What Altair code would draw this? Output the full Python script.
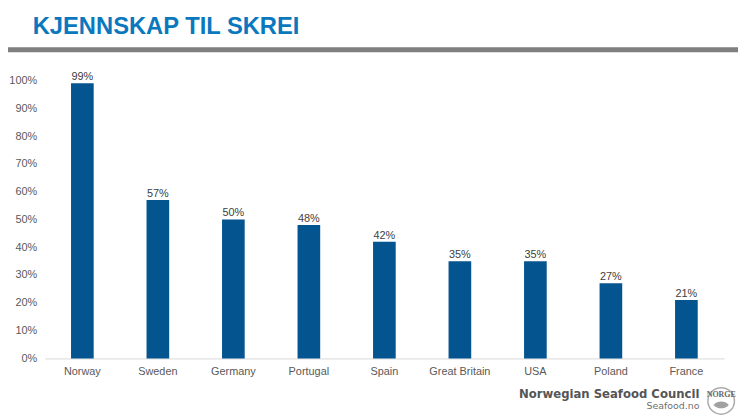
import altair as alt
import pandas as pd

countries = ["Norway", "Sweden", "Germany", "Portugal", "Spain", "Great Britain", "USA", "Poland", "France"]
values = [0.99, 0.57, 0.50, 0.48, 0.42, 0.35, 0.35, 0.27, 0.21]
labels = ["99%", "57%", "50%", "48%", "42%", "35%", "35%", "27%", "21%"]
tick_values = [0.0, 0.1, 0.2, 0.3, 0.4, 0.5, 0.6, 0.7, 0.8, 0.9, 1.0]

df = pd.DataFrame({"country": countries, "value": values, "label": labels})
one = pd.DataFrame({"k": [0]})

FONT = "Liberation Sans"
W, H = 687, 281

x = alt.X("country:N", sort=countries, title=None,
          scale=alt.Scale(paddingInner=0.7, paddingOuter=0.35),
          axis=alt.Axis(labelAngle=0, labelFont=FONT, labelFontSize=11, labelColor="#595959",
                        domainColor="#d9d9d9", ticks=False, labelPadding=7))
y = alt.Y("value:Q", title=None,
          scale=alt.Scale(domain=[0, 1]),
          axis=alt.Axis(format="%", values=tick_values, domain=False, ticks=False,
                        grid=False, labelFont=FONT, labelFontSize=11, labelColor="#595959",
                        labelPadding=8, labelOverlap=False))

bars = alt.Chart(df).mark_bar(color="#03548f").encode(x=x, y=y)
texts = alt.Chart(df).mark_text(baseline="bottom", dy=-1, font=FONT, fontSize=11, color="#404040").encode(
    x=x, y=y, text="label:N")

title = alt.Chart(one).mark_text(align="left", baseline="alphabetic", font=FONT, fontSize=24,
                                 fontWeight="bold", color="#0b78be").encode(
    x=alt.value(-12), y=alt.value(-47), text=alt.value("KJENNSKAP TIL SKREI"))

gray = alt.Chart(one).mark_rule(color="#7f7f7f", strokeWidth=5).encode(
    x=alt.value(-37), x2=alt.value(705), y=alt.value(-31))

footer1 = alt.Chart(one).mark_text(align="right", baseline="alphabetic", font="DejaVu Sans", fontSize=11.8,
                                   fontWeight="bold", color="#555555").encode(
    x=alt.value(662), y=alt.value(321), text=alt.value("Norwegian Seafood Council"))
footer2 = alt.Chart(one).mark_text(align="right", baseline="alphabetic", font="DejaVu Sans", fontSize=9.5,
                                   color="#707070").encode(
    x=alt.value(662), y=alt.value(332), text=alt.value("Seafood.no"))
logo = alt.Chart(one).mark_point(shape="circle", size=720, filled=False, color="#8a8a8a", strokeWidth=1.5).encode(
    x=alt.value(684), y=alt.value(324))
fish = alt.Chart(one).mark_point(shape="M-1,0 C-0.5,-0.6 0.5,-0.6 1,0 C0.5,0.6 -0.5,0.6 -1,0 Z",
                                 size=240, filled=True, color="#8a8a8a", opacity=0.8).encode(
    x=alt.value(684), y=alt.value(328))
logo_t = alt.Chart(one).mark_text(font="Liberation Serif", fontSize=8, fontWeight="bold", color="#666666").encode(
    x=alt.value(684), y=alt.value(318), text=alt.value("NORGE"))

chart = alt.layer(bars, texts, title, gray, footer1, footer2, logo, fish, logo_t).properties(
    width=W, height=H,
    autosize=alt.AutoSizeParams(type="none"),
    padding={"left": 37, "top": 71, "right": 14, "bottom": 59},
    background="white",
).configure_view(stroke=None)

chart.save("out.html", embed_options={"renderer": "svg", "actions": False})
